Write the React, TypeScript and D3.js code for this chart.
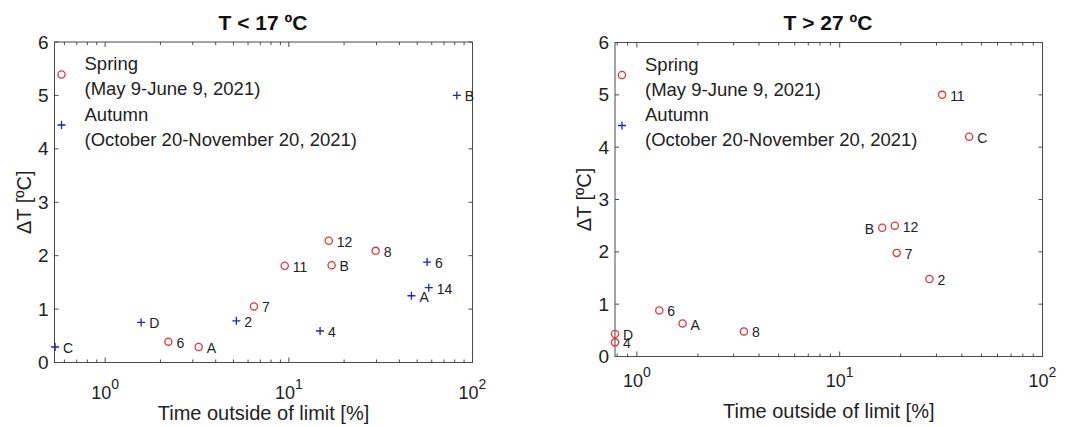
import React from "react";
import * as d3 from "d3";

// Cold limit (T < 17 ºC)
const springLowLabels = ["12", "8", "11", "B", "7", "6", "A"];
const springLowX = [16.5, 29.7, 9.5, 17.1, 6.46, 2.21, 3.23];
const springLowY = [2.28, 2.09, 1.81, 1.82, 1.05, 0.39, 0.29];

const autumnLowLabels = ["B", "6", "14", "A", "4", "2", "D", "C"];
const autumnLowX = [82.2, 56.6, 57.8, 46.5, 14.8, 5.18, 1.57, 0.534];
const autumnLowY = [5.0, 1.88, 1.4, 1.25, 0.59, 0.78, 0.75, 0.29];

// Warm limit (T > 27 ºC)
const springHighLabels = ["11", "C", "B", "12", "7", "2", "6", "A", "8", "D", "4"];
const springHighX = [32.0, 43.5, 16.2, 18.7, 19.1, 27.7, 1.29, 1.68, 3.37, 0.78, 0.78];
const springHighY = [5.0, 4.2, 2.46, 2.5, 1.98, 1.48, 0.88, 0.63, 0.48, 0.43, 0.27];

const autumnHighLabels: string[] = [];
const autumnHighX: number[] = [];
const autumnHighY: number[] = [];

const yTicks = [0, 1, 2, 3, 4, 5, 6];
const xMajorTicks = [1, 10, 100];
const titles = ["T < 17 ºC", "T > 27 ºC"];
const xLabel = "Time outside of limit [%]";
const yLabel = "ΔT [ºC]";
const legendLines = [
  ["Spring", "(May 9-June 9, 2021)"],
  ["Autumn", "(October 20-November 20, 2021)"],
];

const RED = "#e2353b";
const BLUE = "#2222b8";
const AXIS = "#4a4a4a";
const FONT = "Arial, 'Liberation Sans', sans-serif";

type Pt = { x: number; y: number; label: string };
const zip = (lab: string[], xs: number[], ys: number[]): Pt[] =>
  lab.map((l, i) => ({ label: l, x: xs[i], y: ys[i] }));

type PanelProps = {
  title: string;
  left: number;
  right: number;
  top: number;
  bottom: number;
  xMin: number;
  spring: Pt[];
  autumn: Pt[];
  leftLabels: Set<string>;
  titleX: number;
  tickLabelOffset: number;
  xLabelY: number;
  yLabelX: number;
};

function Plus({ x, y }: { x: number; y: number }) {
  const s = 4;
  return (
    <path
      d={`M${x - s},${y}H${x + s}M${x},${y - s}V${y + s}`}
      stroke={BLUE}
      strokeWidth={1.3}
      fill="none"
    />
  );
}

function Ring({ x, y }: { x: number; y: number }) {
  return <circle cx={x} cy={y} r={3.6} fill="none" stroke={RED} strokeWidth={1.3} />;
}

function Panel(p: PanelProps) {
  const xs = d3.scaleLog().domain([p.xMin, 100]).range([p.left, p.right]);
  const ys = d3.scaleLinear().domain([0, 6]).range([p.bottom, p.top]);

  const minor: number[] = [];
  for (const dec of [0.1, 1, 10]) {
    for (let k = 2; k <= 9; k++) {
      const v = k * dec;
      if (v >= p.xMin && v <= 100) minor.push(v);
    }
  }
  const majors = xMajorTicks.filter((v) => v >= p.xMin && v <= 100);

  const label = (pt: Pt, key: string) => {
    const onLeft = p.leftLabels.has(pt.label);
    return (
      <text
        key={key}
        x={xs(pt.x) + (onLeft ? -8 : 8)}
        y={ys(pt.y) + 6}
        textAnchor={onLeft ? "end" : "start"}
        fontSize={14}
        fill="#222"
      >
        {pt.label}
      </text>
    );
  };

  return (
    <g fontFamily={FONT}>
      <text
        x={p.titleX}
        y={30}
        textAnchor="middle"
        fontWeight="bold"
        fontSize={21}
        fill="#111"
      >
        {p.title}
      </text>

      {/* box */}
      <rect
        x={p.left}
        y={p.top}
        width={p.right - p.left}
        height={p.bottom - p.top}
        fill="none"
        stroke={AXIS}
        strokeWidth={1}
      />

      {/* x ticks, inward at bottom and top */}
      {minor.map((v) => (
        <g key={"m" + v} stroke={AXIS} strokeWidth={1}>
          <line x1={xs(v)} x2={xs(v)} y1={p.bottom} y2={p.bottom - 3} />
          <line x1={xs(v)} x2={xs(v)} y1={p.top} y2={p.top + 3} />
        </g>
      ))}
      {majors.map((v) => (
        <g key={"M" + v}>
          <line x1={xs(v)} x2={xs(v)} y1={p.bottom} y2={p.bottom - 5} stroke={AXIS} />
          <line x1={xs(v)} x2={xs(v)} y1={p.top} y2={p.top + 5} stroke={AXIS} />
          <text
            x={xs(v)}
            y={p.bottom + p.tickLabelOffset}
            textAnchor="middle"
            fontSize={18}
            fill="#222"
          >
            <tspan>10</tspan>
            <tspan fontSize={14} dy={-10}>
              {Math.round(Math.log10(v))}
            </tspan>
          </text>
        </g>
      ))}

      {/* y ticks */}
      {yTicks.map((v) => (
        <g key={"y" + v}>
          <line x1={p.left} x2={p.left + 4} y1={ys(v)} y2={ys(v)} stroke={AXIS} />
          <line x1={p.right} x2={p.right - 4} y1={ys(v)} y2={ys(v)} stroke={AXIS} />
          <text x={p.left - 6} y={ys(v) + 6.5} textAnchor="end" fontSize={19} fill="#222">
            {v}
          </text>
        </g>
      ))}

      <text
        x={(p.left + p.right) / 2}
        y={p.xLabelY}
        textAnchor="middle"
        fontSize={20}
        fill="#222"
      >
        {xLabel}
      </text>
      <text
        transform={`translate(${p.yLabelX},${(p.top + p.bottom) / 2}) rotate(-90)`}
        textAnchor="middle"
        fontSize={20}
        fill="#222"
      >
        {yLabel}
      </text>

      {/* legend */}
      <Ring x={p.left + 7} y={p.top + 32.5} />
      <Plus x={p.left + 7} y={p.top + 83} />
      {legendLines.flat().map((t, i) => (
        <text key={"lg" + i} x={p.left + 30} y={p.top + 28 + i * 25.3} fontSize={18.5} fill="#222">
          {t}
        </text>
      ))}

      {/* data */}
      {p.spring.map((pt, i) => (
        <g key={"s" + i}>
          <Ring x={xs(pt.x)} y={ys(pt.y)} />
          {label(pt, "sl" + i)}
        </g>
      ))}
      {p.autumn.map((pt, i) => (
        <g key={"a" + i}>
          <Plus x={xs(pt.x)} y={ys(pt.y)} />
          {label(pt, "al" + i)}
        </g>
      ))}
    </g>
  );
}

export default function App() {
  return (
    <svg
      width={1067}
      height={427}
      style={{ position: "absolute", left: 0, top: 0, background: "#fff" }}
    >
      <rect width={1067} height={427} fill="#fff" />
      <Panel
        title={titles[0]}
        left={54.5}
        right={472.5}
        top={42}
        bottom={362.5}
        xMin={0.53}
        spring={zip(springLowLabels, springLowX, springLowY)}
        autumn={zip(autumnLowLabels, autumnLowX, autumnLowY)}
        leftLabels={new Set<string>()}
        titleX={263}
        tickLabelOffset={36}
        xLabelY={420}
        yLabelX={31}
      />
      <Panel
        title={titles[1]}
        left={615}
        right={1042.5}
        top={42.5}
        bottom={356.5}
        xMin={0.78}
        spring={zip(springHighLabels, springHighX, springHighY)}
        autumn={zip(autumnHighLabels, autumnHighX, autumnHighY)}
        leftLabels={new Set<string>(["B"])}
        titleX={828}
        tickLabelOffset={30}
        xLabelY={418}
        yLabelX={591}
      />
    </svg>
  );
}
